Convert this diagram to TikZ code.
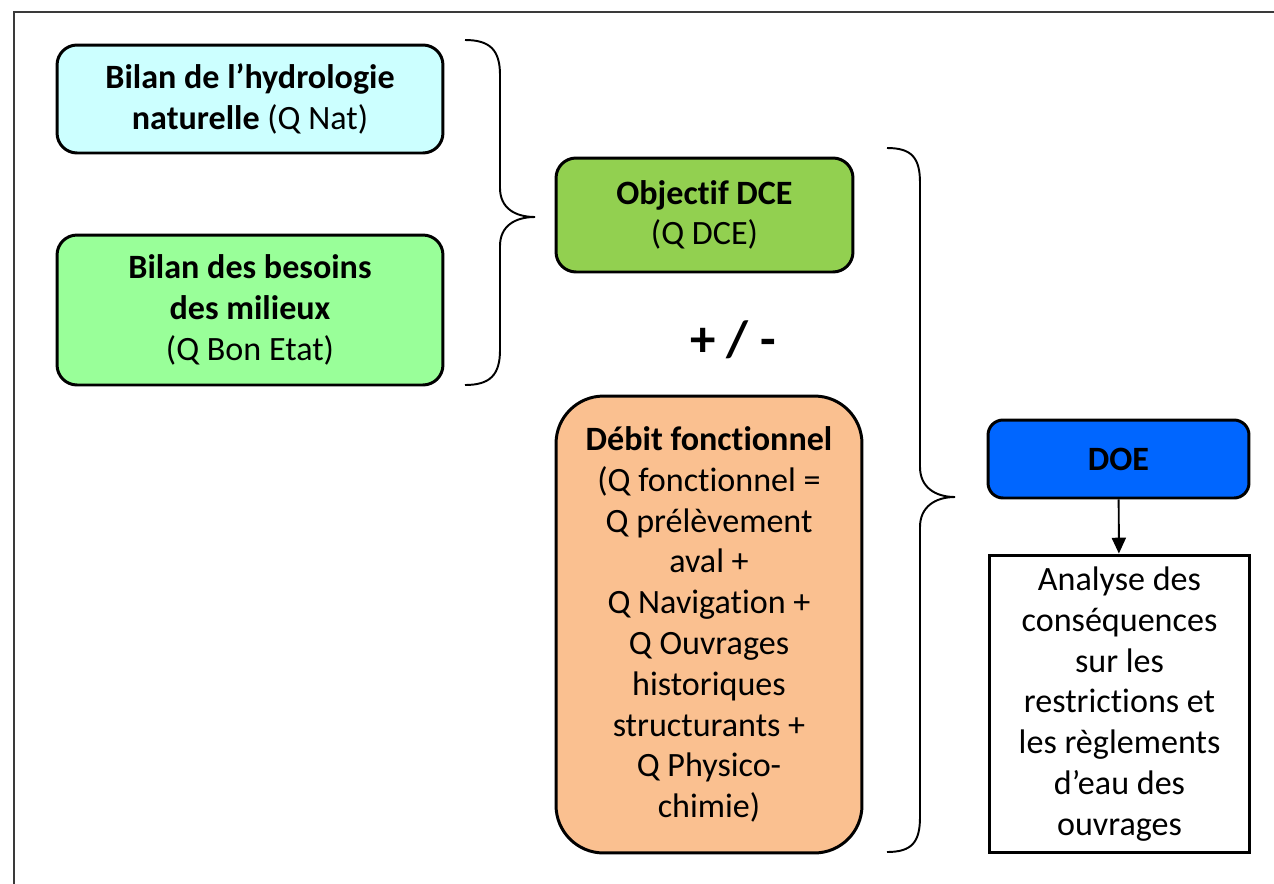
\documentclass[tikz,border=0pt]{standalone}
\usepackage{fontspec}
\setmainfont{Carlito}[Ligatures=NoCommon]
\usepackage{tikz}
\usetikzlibrary{arrows.meta, positioning, calc}
\definecolor{natcol}{HTML}{CCFFFF}
\definecolor{besoincol}{HTML}{99FF99}
\definecolor{dcecol}{HTML}{92D050}
\definecolor{debitcol}{HTML}{FAC090}
\definecolor{doecol}{HTML}{0066FF}
\definecolor{framecol}{HTML}{3A3A3A}
\tikzset{
  box/.style={
    rectangle, rounded corners=0.4cm,
    draw=black, line width=1.7pt,
    align=center, inner sep=2pt,
    font=\fontsize{19.4}{23.2}\selectfont,
  },
  plainbox/.style={box, rounded corners=0pt, fill=white},
  brace/.style={line width=1.1pt, draw=black},
  arrow/.style={-{Triangle[length=9pt, width=8pt]}, line width=1.1pt, color=black},
}
\begin{document}
\begin{tikzpicture}[x=0.02cm, y=-0.02cm]
  \useasboundingbox (0,0) rectangle (1274,883);
  \fill[white] (0,0) rectangle (1274,883);
  \draw[framecol, line width=0.9pt] (14,890) -- (14,12) -- (1280,12);

  \node[box, fill=natcol, minimum width=7.72cm, minimum height=2.16cm] (nat) at (250,99)
    {\textbf{Bilan de l’hydrologie}\\ \textbf{naturelle} (Q Nat)};
  \node[box, fill=besoincol, minimum width=7.72cm, minimum height=3.0cm] (besoin) at (250,310)
    {\textbf{Bilan des besoins}\\ \textbf{des milieux}\\ (Q Bon Etat)};
  \node[box, fill=dcecol, minimum width=5.94cm, minimum height=2.28cm] (dce) at (704.5,215)
    {\textbf{Objectif DCE}\\ (Q DCE)};
  \node[font=\fontsize{29}{30}\selectfont\bfseries] (pm) at (733,340) {+ / -};
  \node[box, fill=debitcol, rounded corners=0.95cm, minimum width=6.12cm, minimum height=9.14cm] (debit) at (709,624.5)
    {\textbf{Débit fonctionnel}\\ (Q fonctionnel =\\ Q prélèvement\\ aval +\\ Q Navigation +\\ Q Ouvrages\\ historiques\\ structurants +\\ Q Physico-\\ chimie)};
  \node[box, fill=doecol, rounded corners=0.3cm, minimum width=5.22cm, minimum height=1.56cm] (doe) at (1118.5,459)
    {\textbf{DOE}};
  \node[plainbox, minimum width=5.22cm, minimum height=5.96cm] (analyse) at (1119.5,704)
    {Analyse des\\ conséquences\\ sur les\\ restrictions et\\ les règlements\\ d’eau des\\ ouvrages};

  % accolades
  \draw[brace] (465,40) .. controls (490,40) and (500,50) .. (500,75) -- (500,188)
    .. controls (500,208) and (515,217) .. (535,217)
    .. controls (515,217) and (500,226) .. (500,246) -- (500,350)
    .. controls (500,375) and (490,385) .. (465,385);
  \draw[brace] (887,148) .. controls (912,148) and (920,158) .. (920,183) -- (920,467)
    .. controls (920,487) and (935,497) .. (955,497)
    .. controls (935,497) and (920,507) .. (920,527) -- (920,817)
    .. controls (920,842) and (912,852) .. (887,852);

  \draw[arrow] (doe) -- (analyse);

\end{tikzpicture}
\end{document}
